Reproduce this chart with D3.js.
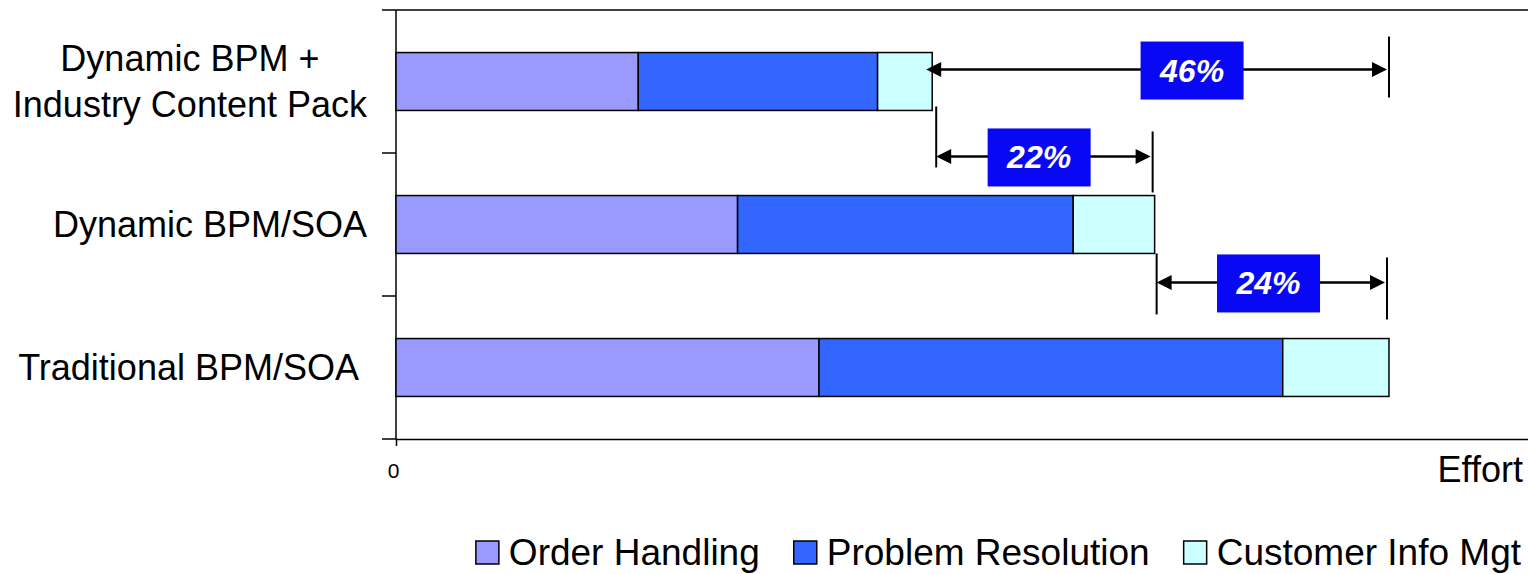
<!DOCTYPE html>
<html>
<head>
<meta charset="utf-8">
<script src="https://cdn.jsdelivr.net/npm/d3@7"></script>
<style>
  html, body { margin: 0; padding: 0; background: #fff; }
  svg { display: block; font-family: "Liberation Sans", Arial, sans-serif; }
</style>
</head>
<body>
<div id="main"></div>
<script>
// chart values
const categories = ['Dynamic BPM +\nIndustry Content Pack', 'Dynamic BPM/SOA', 'Traditional BPM/SOA '];
const seriesNames = ['Order Handling', 'Problem Resolution', 'Customer Info Mgt'];
const orderHandling = [24.4, 34.4, 42.6];
const problemResolution = [24.1, 33.8, 46.7];
const customerInfo = [5.5, 8.2, 10.7];
const xTicks = [0];
const savingFrom = [0, 0, 1]; // category index of the shorter bar
const savingTo = [2, 1, 2]; // category index of the longer bar
const savingLabels = ['46%', '22%', '24%'];
const axisTitle = 'Effort';

function main() {
  const width = 1528;
  const height = 574;
  const left = 396; // value axis zero
  const top = 10;
  const bottom = 439;
  const colors = ['#9999FF', '#3366FF', '#CCFFFF'];

  const svg = d3.select('#main')
    .append('svg')
    .attr('width', width)
    .attr('height', height);

  // table for the stack layout
  const table = categories.map((c, i) => ({
    cat: c,
    [seriesNames[0]]: orderHandling[i],
    [seriesNames[1]]: problemResolution[i],
    [seriesNames[2]]: customerInfo[i]
  }));
  const stacked = d3.stack().keys(seriesNames)(table);
  const totals = table.map(d => d3.sum(seriesNames, k => d[k]));

  const x = d3.scaleLinear().domain([0, 114]).range([left, width]);
  const y = d3.scaleBand()
    .domain(categories)
    .range([top, bottom])
    .paddingInner(0.595)
    .paddingOuter(0.2975);
  const bw = y.bandwidth();

  // frame: top line, value axis, category axis with boundary ticks
  svg.append('line')
    .attr('x1', left - 14).attr('x2', width)
    .attr('y1', top).attr('y2', top)
    .attr('stroke', '#000').attr('stroke-width', 1.5);

  const xAxis = svg.append('g')
    .attr('transform', `translate(0,${bottom})`)
    .call(d3.axisBottom(x).tickValues(xTicks).tickSize(7).tickSizeOuter(0).tickFormat(d3.format('d')));
  xAxis.select('.domain').attr('stroke-width', 1.5);
  xAxis.selectAll('.tick line').attr('stroke-width', 1.5);
  xAxis.selectAll('.tick text')
    .style('font-size', '21px')
    .style('font-family', '"Liberation Sans", Arial, sans-serif')
    .attr('y', 39)
    .attr('dy', 0)
    .attr('dx', -3);
  // extend bottom axis to the left like the category ticks
  svg.append('line')
    .attr('x1', left - 14).attr('x2', left)
    .attr('y1', bottom).attr('y2', bottom)
    .attr('stroke', '#000').attr('stroke-width', 1.5);

  svg.append('line')
    .attr('x1', left).attr('x2', left)
    .attr('y1', top).attr('y2', bottom)
    .attr('stroke', '#000').attr('stroke-width', 1.5);

  const boundaries = categories.map(c => y(c) - y.step() * y.paddingOuter());
  svg.append('g')
    .selectAll('line')
    .data(boundaries.slice(1))
    .enter()
    .append('line')
    .attr('x1', left - 14).attr('x2', left)
    .attr('y1', d => d).attr('y2', d => d)
    .attr('stroke', '#000').attr('stroke-width', 1.5);

  // axis title
  svg.append('text')
    .attr('x', 1523)
    .attr('y', 482)
    .attr('text-anchor', 'end')
    .attr('font-size', 36)
    .text(axisTitle);

  // category labels
  const labels = svg.append('g')
    .selectAll('text')
    .data(categories)
    .enter()
    .append('text')
    .attr('font-size', 36)
    .style('white-space', 'pre');
  labels.each(function (c) {
    const el = d3.select(this);
    const lines = c.split('\n');
    const cy = y(c) + bw / 2;
    const tspans = el.selectAll('tspan')
      .data(lines)
      .enter()
      .append('tspan')
      .text(d => d);
    const maxW = d3.max(tspans.nodes(), n => n.getComputedTextLength());
    const cx = 367 - maxW / 2;
    tspans
      .attr('x', cx)
      .attr('text-anchor', 'middle')
      .attr('y', (d, i) => cy + 12 + (i - (lines.length - 1) / 2) * 46);
  });

  // stacked bars
  svg.append('g')
    .selectAll('g')
    .data(stacked)
    .enter()
    .append('g')
    .attr('fill', (d, i) => colors[i])
    .selectAll('rect')
    .data(d => d)
    .enter()
    .append('rect')
    .attr('x', d => x(d[0]))
    .attr('y', d => y(d.data.cat))
    .attr('width', d => x(d[1]) - x(d[0]))
    .attr('height', bw)
    .attr('stroke', '#000')
    .attr('stroke-width', 1.5);

  // saving annotations: arrow y, end line extents, box position along the arrow
  const annLayout = [
    { y: y(categories[0]) + 17, tipL: -6, lineL: null, lineR: [-33, 28], offR: -2, frac: 0.577 },
    { y: y(categories[0]) + bw + 46, tipL: 4, lineL: [-50, 11], lineR: [-25, 36], offR: -4, frac: 0.48 },
    { y: y(categories[1]) + bw + 29, tipL: 2, lineL: [-29, 32], lineR: [-25, 37], offR: -4, frac: 0.49 }
  ];
  const ann = svg.append('g')
    .selectAll('g')
    .data(savingLabels)
    .enter()
    .append('g');
  ann.each(function (label, i) {
    const g = d3.select(this);
    const L = annLayout[i];
    const x1 = x(totals[savingFrom[i]]) + L.tipL;
    const x2 = x(totals[savingTo[i]]) + L.offR;
    const ah = 15;
    const aw = 7.5;
    g.append('line')
      .attr('x1', x1 + ah - 1).attr('x2', x2 - ah + 1)
      .attr('y1', L.y).attr('y2', L.y)
      .attr('stroke', '#000').attr('stroke-width', 2.6);
    g.append('path')
      .attr('d', `M${x1},${L.y}L${x1 + ah},${L.y - aw}L${x1 + ah},${L.y + aw}Z`)
      .attr('fill', '#000');
    g.append('path')
      .attr('d', `M${x2},${L.y}L${x2 - ah},${L.y - aw}L${x2 - ah},${L.y + aw}Z`)
      .attr('fill', '#000');
    if (L.lineL) {
      g.append('line')
        .attr('x1', x1).attr('x2', x1)
        .attr('y1', L.y + L.lineL[0]).attr('y2', L.y + L.lineL[1])
        .attr('stroke', '#000').attr('stroke-width', 2);
    }
    g.append('line')
      .attr('x1', x2 + 2).attr('x2', x2 + 2)
      .attr('y1', L.y + L.lineR[0]).attr('y2', L.y + L.lineR[1])
      .attr('stroke', '#000').attr('stroke-width', 2);
    const bx = x1 + (x2 - x1) * L.frac;
    g.append('rect')
      .attr('x', bx - 51.5)
      .attr('y', L.y - 28)
      .attr('width', 103)
      .attr('height', 58)
      .attr('fill', '#0808F5');
    g.append('text')
      .attr('x', bx)
      .attr('y', L.y + 12)
      .attr('text-anchor', 'middle')
      .attr('fill', '#fff')
      .attr('font-size', 32)
      .attr('font-weight', 'bold')
      .attr('font-style', 'italic')
      .text(label);
  });

  // legend, right aligned
  const legend = svg.append('g');
  const items = legend.selectAll('g')
    .data(seriesNames)
    .enter()
    .append('g');
  items.append('rect')
    .attr('width', 23)
    .attr('height', 23)
    .attr('y', 541)
    .attr('fill', (d, i) => colors[i])
    .attr('stroke', '#000')
    .attr('stroke-width', 1.5);
  items.append('text')
    .attr('x', 33)
    .attr('y', 565)
    .attr('font-size', 37)
    .text(d => d);
  const widths = items.nodes().map(n => d3.select(n).select('text').node().getComputedTextLength() + 33);
  const gap = 34;
  const totalW = d3.sum(widths) + gap * (widths.length - 1);
  let cursor = 1521 - totalW;
  items.attr('transform', (d, i) => {
    const tx = cursor;
    cursor += widths[i] + gap;
    return `translate(${tx},0)`;
  });
}

document.addEventListener('DOMContentLoaded', main);
</script>
</body>
</html>
